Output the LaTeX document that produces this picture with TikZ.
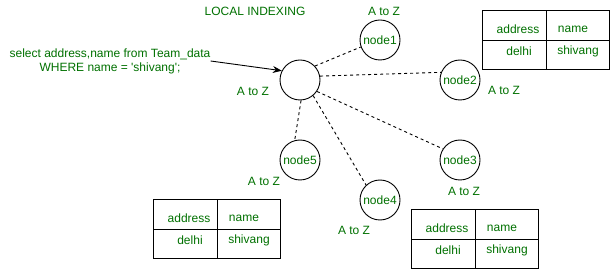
\documentclass[tikz,border=0pt]{standalone}
\usepackage{fontspec}
\setmainfont{Liberation Sans}[Ligatures=TeXOff]
\usepackage{xcolor}
\definecolor{labelgreen}{RGB}{0,112,0}
\usetikzlibrary{arrows.meta, positioning}
\tikzset{
  >=Stealth,
  dbnode/.style={circle, draw=black, line width=0.9pt, minimum size=40pt,
                 inner sep=0pt, text=labelgreen},
  lbl/.style={text=labelgreen, inner sep=0pt},
  link/.style={dash pattern=on 3pt off 3pt, line width=0.9pt},
  queryarrow/.style={-{Stealth[length=9pt, width=7pt]}, line width=0.9pt},
  tblline/.style={line width=1pt},
}

\begin{document}
\begin{tikzpicture}[x=1pt, y=-1pt, font=\fontsize{12}{14}\selectfont]
  \useasboundingbox (0,0) rectangle (610,272);
  \node[lbl] (title) at (255,11) {LOCAL INDEXING};

  % Hub and the five partitions
  \node[dbnode] (hub) at (300,80) {};
  \node[dbnode] (node1) at (380,40) {node1};
  \node[dbnode] (node2) at (460,80) {node2};
  \node[dbnode] (node3) at (460,160) {node3};
  \node[dbnode] (node4) at (380,200) {node4};
  \node[dbnode] (node5) at (300,160) {node5};

  % Range labels
  \node[lbl] (rangehub) at (253,91) {A to Z};
  \node[lbl] (range1) at (384,11) {A to Z};
  \node[lbl] (range2) at (504,90) {A to Z};
  \node[lbl] (range3) at (464,191) {A to Z};
  \node[lbl] (range4) at (354,230) {A to Z};
  \node[lbl] (range5) at (264,181) {A to Z};

  % Query
  \node[lbl, align=center] (sql) at (110,61)
    {select address,name from Team\_data\\WHERE name = 'shivang';};
  \draw[queryarrow] (sql.east) -- (hub.153);

  % Dashed links
  \draw[link] (hub.43) -- (node1.200);
  \draw[link] (hub.11) -- (node2.158);
  \draw[link] (hub.-34) -- (node3.147);
  \draw[link] (hub.-50) -- (node4.133);
  \draw[link] (hub.-87) -- (node5.105);

  % Local index tables
  \foreach \tx/\ty/\tn in {482/11/tabA, 153/200/tabB, 411/210/tabC}{
    \draw[tblline] (\tx,\ty) rectangle ++(127,59);
    \draw[tblline] (\tx+64,\ty) -- ++(0,59);
    \draw[tblline] (\tx,\ty+30) -- ++(127,0);
    \node[lbl] (\tn addr) at (\tx+36,\ty+18) {address};
    \node[lbl] (\tn name) at (\tx+91,\ty+18) {name};
    \node[lbl] (\tn city) at (\tx+37,\ty+40) {delhi};
    \node[lbl] (\tn who) at (\tx+96,\ty+40) {shivang};
  }
\end{tikzpicture}
\end{document}
